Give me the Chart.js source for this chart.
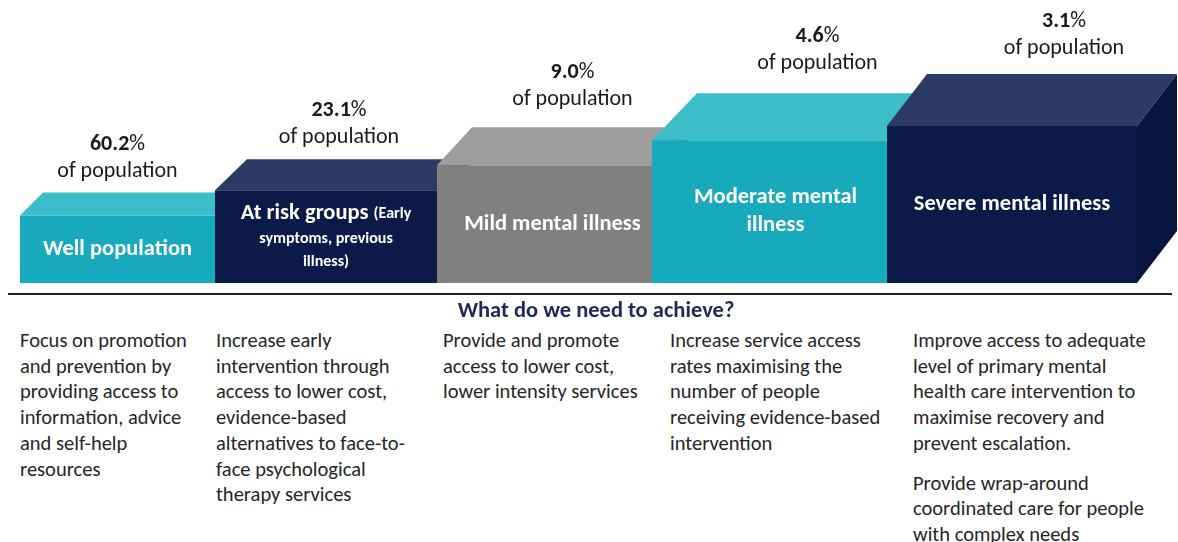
<!DOCTYPE html>
<html>
<head>
<meta charset="utf-8">
<script src="https://cdn.jsdelivr.net/npm/chart.js@4.4.1/dist/chart.umd.min.js"></script>
<style>
  body { margin: 0; background: #fff; font-family: Carlito, Lato, sans-serif; }
  #wrap { position: relative; width: 1178px; height: 542px; overflow: hidden; }
  #c { position: absolute; left: 0; top: 0; }
  #rule { position: absolute; left: 8px; top: 293px; width: 1164px; height: 2px; background: #1e1e1e; }
  #title { position: absolute; left: 0; top: 297px; width: 1192px; text-align: center;
           font-weight: bold; font-size: 22.5px; line-height: 26px; color: #1f2a58; }
  .goal { position: absolute; top: 328px; font-size: 20.5px; line-height: 25.7px; color: #262626; white-space: nowrap; }
  .goal p { margin: 0 0 14px 0; }
</style>
</head>
<body>
<div id="wrap">
  <canvas id="c" width="1178" height="295"></canvas>
  <div id="rule"></div>
  <div id="title">What do we need to achieve?</div>
</div>
<script>
const categories = [
  'Well population',
  'At risk groups (Early\nsymptoms, previous\nillness)',
  'Mild mental illness',
  'Moderate mental\nillness',
  'Severe mental illness'
];
const populationPct = [60.2, 23.1, 9.0, 4.6, 3.1];
// visual step height of each tier (not proportional to the share)
const tierLevel = [4.3, 5.9, 7.5, 9.1, 10];
const goals = [
  [['Focus on promotion', 'and prevention by', 'providing access to', 'information, advice', 'and self-help', 'resources']],
  [['Increase early', 'intervention through', 'access to lower cost,', 'evidence-based', 'alternatives to face-to-', 'face psychological', 'therapy services']],
  [['Provide and promote', 'access to lower cost,', 'lower intensity services']],
  [['Increase service access', 'rates maximising the', 'number of people', 'receiving evidence-based', 'intervention']],
  [['Improve access to adequate', 'level of primary mental', 'health care intervention to', 'maximise recovery and', 'prevent escalation.'],
   ['Provide wrap-around', 'coordinated care for people', 'with complex needs']]
];

// layout / style
const FONT = 'Carlito, Lato, sans-serif';
const COLUMN_WIDTHS = [195, 222, 215, 235, 250];
const GOAL_LEFT = [20, 216, 443, 670, 913];
const FRONT = ['#17a9bc', '#0b1a48', '#808080', '#17a9bc', '#0b1a48'];
const TOP = ['#3cbdca', '#2c3a66', '#9d9d9d', '#3cbdca', '#2c3a66'];
const SIDE = ['#148f9f', '#081540', '#6e6e6e', '#148f9f', '#081540'];
const DEPTH = [[23, 23], [32, 31], [35, 38], [45, 47], [40, 52]];
const LABEL_OFFSET = [[0, 21], [13, 22], [28, 28], [48, 30], [52, 26]];
const NAME_SHIFT = [0, 0, 8, 6, 0];

const total = COLUMN_WIDTHS.reduce((a, b) => a + b, 0);
const edges = [0];
COLUMN_WIDTHS.forEach(w => edges.push(edges[edges.length - 1] + w));

function poly(ctx, pts) {
  ctx.beginPath();
  pts.forEach(([x, y], i) => i ? ctx.lineTo(x, y) : ctx.moveTo(x, y));
  ctx.closePath();
  ctx.fill();
}

const tiers = {
  id: 'tiers',
  afterDatasetsUpdate(chart) {
    const xs = chart.scales.x;
    chart.getDatasetMeta(0).data.forEach((bar, i) => {
      const l = xs.getPixelForValue(edges[i]);
      const r = xs.getPixelForValue(edges[i + 1]);
      bar.x = (l + r) / 2;
      bar.width = r - l;
    });
  },
  beforeDatasetsDraw(chart) {
    const ctx = chart.ctx;
    chart.getDatasetMeta(0).data.forEach((bar, i) => {
      const { x, y, base, width } = bar;
      const l = x - width / 2, r = x + width / 2;
      const [dx, dy] = DEPTH[i];
      bar.draw(ctx);
      ctx.fillStyle = TOP[i];
      poly(ctx, [[l, y], [r, y], [r + dx, y - dy], [l + dx, y - dy]]);
      ctx.fillStyle = SIDE[i];
      poly(ctx, [[r, y], [r + dx, y - dy], [r + dx, base - dy], [r, base]]);
    });
    return false;
  },
  afterDraw(chart) {
    const ctx = chart.ctx;
    ctx.save();
    ctx.textBaseline = 'middle';
    chart.getDatasetMeta(0).data.forEach((bar, i) => {
      const { x, y, base } = bar;
      // share above the bar
      const [ox, oy] = LABEL_OFFSET[i];
      const cx = x + ox;
      const cy = y - DEPTH[i][1] - oy;
      ctx.fillStyle = '#1a1a1a';
      ctx.textAlign = 'center';
      ctx.font = `22px ${FONT}`;
      ctx.fillText('of population', cx, cy);
      const num = populationPct[i].toFixed(1);
      ctx.font = `bold 22px ${FONT}`;
      const w1 = ctx.measureText(num).width;
      ctx.font = `22px ${FONT}`;
      const w2 = ctx.measureText('%').width;
      ctx.textAlign = 'left';
      ctx.font = `bold 22px ${FONT}`;
      ctx.fillText(num, cx - (w1 + w2) / 2, cy - 27);
      ctx.font = `22px ${FONT}`;
      ctx.fillText('%', cx - (w1 + w2) / 2 + w1, cy - 27);

      // name inside the front face
      const lines = categories[i].split('\n');
      let small = false;
      const runs = lines.map(line => {
        const parts = [];
        let rest = line;
        while (rest.length) {
          if (!small) {
            const k = rest.indexOf('(');
            if (k < 0) { parts.push([rest, 22.5]); rest = ''; }
            else { if (k) parts.push([rest.slice(0, k), 22.5]); rest = rest.slice(k); small = true; }
          } else {
            const k = rest.indexOf(')');
            if (k < 0) { parts.push([rest, 16]); rest = ''; }
            else { parts.push([rest.slice(0, k + 1), 16]); rest = rest.slice(k + 1); small = false; }
          }
        }
        return parts;
      });
      const heights = runs.map(p => p.some(s => s[1] > 18) ? 28 : 23);
      const blockH = heights.reduce((a, b) => a + b, 0);
      let ty = (y + base) / 2 - blockH / 2;
      const nx = x + NAME_SHIFT[i];
      ctx.fillStyle = '#ffffff';
      runs.forEach((parts, j) => {
        const widths = parts.map(([t, s]) => { ctx.font = `bold ${s}px ${FONT}`; return ctx.measureText(t).width; });
        let tx = nx - widths.reduce((a, b) => a + b, 0) / 2;
        const my = ty + heights[j] / 2;
        parts.forEach(([t, s], k) => {
          ctx.font = `bold ${s}px ${FONT}`;
          ctx.fillText(t, tx, my);
          tx += widths[k];
        });
        ty += heights[j];
      });
    });
    ctx.restore();
  }
};

new Chart(document.getElementById('c'), {
  type: 'bar',
  data: {
    datasets: [{
      data: tierLevel.map((v, i) => ({ x: (edges[i] + edges[i + 1]) / 2, y: v })),
      backgroundColor: FRONT,
      borderWidth: 0
    }]
  },
  options: {
    responsive: false,
    devicePixelRatio: 1,
    animation: false,
    layout: { padding: { left: 20, right: 41, top: 126, bottom: 12 } },
    plugins: { legend: { display: false }, tooltip: { enabled: false } },
    scales: {
      x: { type: 'linear', min: 0, max: total, offset: false, display: false },
      y: { min: 0, max: 10, display: false }
    }
  },
  plugins: [tiers]
});

const wrap = document.getElementById('wrap');
goals.forEach((paras, i) => {
  const d = document.createElement('div');
  d.className = 'goal';
  d.style.left = GOAL_LEFT[i] + 'px';
  d.innerHTML = paras.map(p => `<p>${p.join('<br>')}</p>`).join('');
  wrap.appendChild(d);
});
</script>
</body>
</html>
